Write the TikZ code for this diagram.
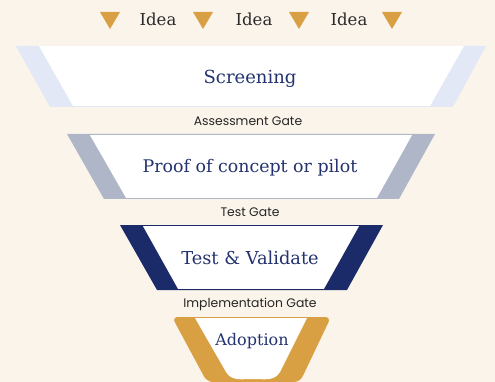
\documentclass[tikz,border=0pt]{standalone}
\usepackage{fontspec}
\newfontfamily\titlefont{DejaVu Serif}
\newfontfamily\gatefont{Poppins}
\definecolor{bgcol}{HTML}{FBF4EA}
\definecolor{lightblue}{HTML}{E2E8F6}
\definecolor{greyblue}{HTML}{AEB6C8}
\definecolor{navy}{HTML}{1B2A68}
\definecolor{gold}{HTML}{D9A043}
\definecolor{titlecol}{HTML}{24336F}
\definecolor{ideacol}{HTML}{2A2A2A}
\begin{document}
\begin{tikzpicture}[x=1pt,y=-1pt,
  title/.style={font=\titlefont\fontsize{18}{20}\selectfont, text=titlecol, inner sep=0pt, anchor=base},
  gate/.style={font=\gatefont\fontsize{12.4}{14}\selectfont, text=black!85, inner sep=0pt, anchor=base},
  idea/.style={font=\titlefont\fontsize{16.5}{18}\selectfont, text=ideacol, inner sep=0pt, anchor=base}]
\useasboundingbox[fill=bgcol] (0,0) rectangle (495,382);
% idea triangles and labels
\foreach \cx in {110,203,299,392}{
  \fill[gold] (\cx-10,12) -- (\cx+10,12) -- (\cx,29) -- cycle;
}
\node[idea] (i1) at (158,25.3) {Idea};
\node[idea] (i2) at (254,25.3) {Idea};
\node[idea] (i3) at (349,25.3) {Idea};
% band 1
\fill[lightblue] (16,46) -- (486,46) -- (453,107) -- (50,107) -- cycle;
\fill[white] (39,46) -- (464,46) -- (430,106) -- (73,106) -- cycle;
\node[title] (screen) at (250,84) {Screening};
\node[gate] (g1) at (248,126) {Assessment Gate};
% band 2
\fill[greyblue] (67,134) -- (435,134) -- (399,199) -- (104,199) -- cycle;
\fill[white] (90,135.2) -- (412,135.2) -- (377,197.8) -- (126,197.8) -- cycle;
\node[title, font=\titlefont\fontsize{17.4}{20}\selectfont] (proof) at (250,172.7) {Proof of concept or pilot};
\node[gate] (g2) at (250,216) {Test Gate};
% band 3
\fill[navy] (120,225) -- (383,225) -- (347,290) -- (157,290) -- cycle;
\fill[white] (143,226.2) -- (359,226.2) -- (324,288.8) -- (178,288.8) -- cycle;
\node[title, font=\titlefont\fontsize{17.8}{20}\selectfont] (test) at (250,264) {Test \& Validate};
\node[gate] (g3) at (250,307.7) {Implementation Gate};
% band 4 (cup)
\fill[gold, rounded corners=6pt] (172,317) -- (331,317) -- (300,382) -- (207,382) -- cycle;
\fill[white] (195,318) -- (307,318) -- (280,372) to[out=-120,in=0] (253,379) to[out=180,in=-60] (226,372) -- cycle;
\node[title, font=\titlefont\fontsize{16}{18}\selectfont] (adopt) at (252,345) {Adoption};
\end{tikzpicture}
\end{document}
